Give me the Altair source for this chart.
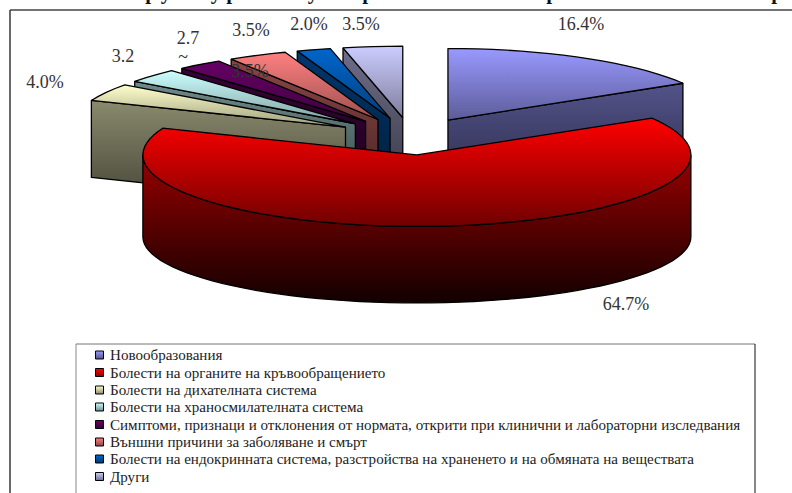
import math
import altair as alt
import pandas as pd

# Slice shares in drawing order, clockwise from twelve o'clock
shares = [16.4, 64.7, 4.0, 3.2, 2.7, 3.5, 2.0, 3.5]
names = [
    "Новообразования",
    "Болести на органите на кръвообращението",
    "Болести на дихателната система",
    "Болести на храносмилателната система",
    "Симптоми, признаци и отклонения от нормата, открити при клинични и лабораторни изследвания",
    "Външни причини за заболяване и смърт",
    "Болести на ендокринната система, разстройства на храненето и на обмяната на веществата",
    "Други",
]
base_colours = ["#9999FF", "#FF0000", "#FFFFCC", "#CCFFFF", "#660066", "#FF8080", "#0066CC", "#CCCCFF"]

# Percentage labels, including the two that collide with the pie
label_texts = ["16.4%", "64.7%", "4.0%", "3.2", "2.7", "~", "3.5%", "3.5%", "2.0%", "3.5%"]
label_x = [581, 626, 45, 123, 188, 183, 251, 250, 309, 361]
label_y = [25, 305, 83, 57, 39, 58, 31, 72, 25, 25]

# Descender fragments of the heading that runs off the top edge
heading_glyphs = ["р", "у", "у", "р", "у", "р", "р", "р"]
heading_x = [151, 166, 216, 232, 313, 368, 552, 777]

# Pie projection: ellipse radii, explode offsets and wall depth
CX, CY = 411, 136.3
RX, RY = 274, 71.5
EX, EY = 75, 18.7
DEPTH = 77

W, H = 792, 493
sx = alt.Scale(domain=[0, W], range=[0, W], nice=False, zero=False)
sy = alt.Scale(domain=[H, 0], range=[H, 0], nice=False, zero=False)


def shade(colour, factor):
    r, g, b = (int(colour[i:i + 2], 16) for i in (1, 3, 5))
    return "#%02x%02x%02x" % (round(r * factor), round(g * factor), round(b * factor))


def fade(c1, c2):
    return alt.Gradient(
        gradient="linear", x1=0, x2=0, y1=0, y2=1,
        stops=[alt.GradientStop(color=c1, offset=0), alt.GradientStop(color=c2, offset=1)],
    )


def polygon(points, c1, c2, stroke_width=1.3):
    closed = points + [points[0]]
    frame = pd.DataFrame({
        "x": [p[0] for p in closed],
        "y": [p[1] for p in closed],
        "i": list(range(len(closed))),
    })
    return alt.Chart(frame).mark_line(
        fill=fade(c1, c2), stroke="black", strokeWidth=stroke_width, strokeJoin="round"
    ).encode(
        x=alt.X("x:Q", scale=sx, axis=None),
        y=alt.Y("y:Q", scale=sy, axis=None),
        order=alt.Order("i:Q"),
    )


def rim(apex, deg, rx=RX, ry=RY):
    a = math.radians(deg)
    return (apex[0] + rx * math.sin(a), apex[1] - ry * math.cos(a))


# Start and end angle of every slice, and its exploded apex
spans = []
running = 0.0
for s in shares:
    spans.append((running, running + s * 3.6))
    running += s * 3.6
apexes = []
for a0, a1 in spans:
    mid = math.radians((a0 + a1) / 2)
    apexes.append((CX + EX * math.sin(mid), CY - EY * math.cos(mid)))


def top_face(k, tail):
    a0, a1 = spans[k]
    steps = max(3, int((a1 - a0) / 3))
    arc = [rim(apexes[k], a0 + (a1 - a0) * j / steps) for j in range(steps + 1)]
    return polygon([apexes[k]] + arc, base_colours[k], shade(base_colours[k], tail))


def cut_wall(k, deg):
    apex = apexes[k]
    outer = rim(apex, deg)
    pts = [outer, apex, (apex[0], apex[1] + DEPTH), (outer[0], outer[1] + DEPTH)]
    return polygon(pts, shade(base_colours[k], 0.54), shade(base_colours[k], 0.27))


def front_wall(k):
    # Curved outer wall of the large slice, slightly flattened at its foot
    apex = apexes[k]
    degs = list(range(90, 271, 3))
    upper = [rim(apex, d) for d in degs]
    lower = [rim((apex[0], apex[1] + 82), d, RX, 66) for d in reversed(degs)]
    return polygon(upper + lower, shade(base_colours[k], 0.6), shade(base_colours[k], 0.07))


layers = []

# First slice sits at the back on the right
layers += [cut_wall(0, spans[0][1]), top_face(0, 0.6)]

# Small slices, painted from the back towards the viewer
for k in [7, 6, 5, 4, 3, 2]:
    layers += [cut_wall(k, spans[k][0]), top_face(k, 0.62)]

# Large slice in front of everything
layers += [front_wall(1), top_face(1, 0.44)]


def rule(x1, x2, y1, y2, colour, width):
    frame = pd.DataFrame({"x": [x1], "x2": [x2], "y": [y1], "y2": [y2]})
    return alt.Chart(frame).mark_rule(color=colour, strokeWidth=width).encode(
        x=alt.X("x:Q", scale=sx, axis=None), x2="x2:Q",
        y=alt.Y("y:Q", scale=sy, axis=None), y2="y2:Q",
    )


# Chart frame, open at the right and bottom edges
layers += [rule(10, W, 10, 10, "#444444", 1.6), rule(10, 10, 10, H, "#444444", 1.6)]

# Legend box, open at the bottom edge
layers += [
    rule(76, 755, 344, 344, "#777777", 1),
    rule(76, 76, 344, H, "#888888", 1),
    rule(755, 755, 344, H, "#111111", 1),
]

# Legend rows
row_y = [355, 372.5, 390, 407, 424.5, 442, 459, 476.5]
for k, name in enumerate(names):
    dot = pd.DataFrame({"x": [99.5], "y": [row_y[k]]})
    layers.append(
        alt.Chart(dot).mark_square(
            size=64, fill=fade(base_colours[k], shade(base_colours[k], 0.55)),
            stroke="black", strokeWidth=1, opacity=1,
        ).encode(x=alt.X("x:Q", scale=sx, axis=None), y=alt.Y("y:Q", scale=sy, axis=None))
    )
legend_frame = pd.DataFrame({"x": [110] * len(names), "y": row_y, "t": names})
layers.append(
    alt.Chart(legend_frame).mark_text(
        align="left", baseline="middle", font="Liberation Serif", fontSize=15.07, color="#222222"
    ).encode(x=alt.X("x:Q", scale=sx, axis=None), y=alt.Y("y:Q", scale=sy, axis=None), text="t:N")
)

# Percentage labels
label_frame = pd.DataFrame({"x": label_x, "y": label_y, "t": label_texts})
layers.append(
    alt.Chart(label_frame).mark_text(
        align="center", baseline="middle", font="Liberation Serif", fontSize=18, color="#333333"
    ).encode(x=alt.X("x:Q", scale=sx, axis=None), y=alt.Y("y:Q", scale=sy, axis=None), text="t:N")
)

# Heading sitting just above the top edge of the page
heading_frame = pd.DataFrame({"x": heading_x, "y": [-1.5] * len(heading_x), "t": heading_glyphs})
layers.append(
    alt.Chart(heading_frame).mark_text(
        align="center", baseline="alphabetic", font="Liberation Serif", fontSize=21,
        fontWeight="bold", color="#111111",
    ).encode(x=alt.X("x:Q", scale=sx, axis=None), y=alt.Y("y:Q", scale=sy, axis=None), text="t:N")
)

chart = alt.layer(*layers).properties(
    width=W, height=H, padding=0, autosize=alt.AutoSizeParams(type="none"), background="white"
).configure_view(stroke=None)

chart.save("out.html", embed_options={"renderer": "svg", "actions": False})
